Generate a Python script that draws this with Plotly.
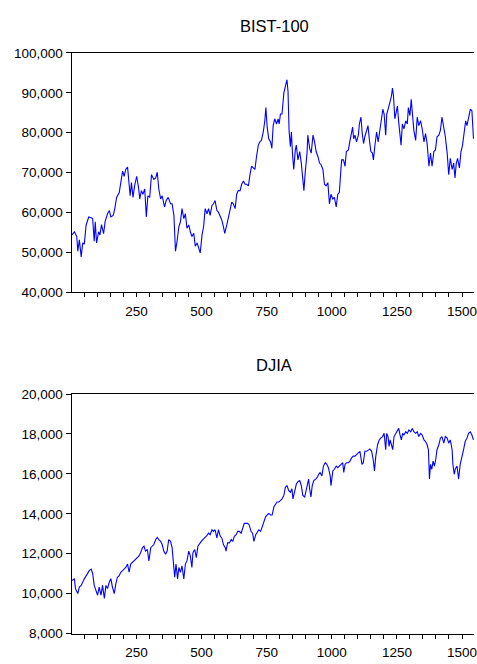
import plotly.graph_objects as go

# ---------------- data ----------------
bist_idx = [3, 12, 21, 25, 31, 38, 44, 50, 57, 67, 76, 82, 88, 92, 97, 105, 110, 116, 124, 130,
            139, 146, 152, 161, 167, 174, 184, 190, 197, 203, 209, 216, 222, 226, 231, 237, 243, 251, 258, 263,
            269, 275, 282, 288, 294, 301, 308, 317, 324, 330, 336, 343, 349, 358, 364, 372, 381, 387, 394, 400,
            406, 413, 419, 425, 432, 438, 444, 451, 457, 463, 470, 476, 483, 489, 495, 502, 508,
            514, 521, 527, 533, 540, 546, 552, 559, 565, 572, 578, 584, 589, 597, 603, 610, 616, 622, 629,
            635, 641, 648, 654, 661, 667, 673, 680, 686, 692, 699, 705, 711, 718, 724, 730, 737, 743, 747, 752,
            758, 765, 770, 775, 781, 788, 794, 798, 803, 809, 816, 822, 828, 832, 836, 841, 845, 849, 854, 860,
            864, 870, 877, 883, 889, 893, 898, 905, 908, 915, 921, 928, 934, 940, 947, 953, 959, 966, 972, 978,
            985, 991, 997, 1004, 1010, 1017, 1023, 1029, 1036,
            1038, 1045, 1051, 1056, 1064, 1069, 1074, 1080, 1084, 1089, 1095, 1102, 1106, 1112, 1117, 1122, 1127,
            1134, 1139, 1144, 1150, 1156, 1160, 1165, 1172, 1178, 1184, 1191, 1196, 1201, 1207, 1211, 1218, 1224,
            1229, 1233, 1237, 1242, 1247, 1252, 1257, 1262, 1266, 1271, 1277, 1284, 1290, 1294, 1300, 1305, 1310,
            1315, 1322, 1328, 1334, 1341, 1347, 1354, 1360, 1366, 1373, 1379, 1385, 1392, 1398, 1404, 1411, 1417,
            1423, 1430, 1436, 1443, 1449, 1455, 1462, 1468, 1473, 1478, 1483, 1490, 1496, 1502, 1509, 1514, 1519,
            1525, 1532, 1538, 1544]
bist_val = [54400, 55200, 54000, 50300, 53200, 48900, 52400, 52100, 56900, 58900, 58700, 58500, 52800, 57700, 52400, 55200, 54400, 57000, 54700, 57800,
            59700, 60500, 58900, 59300, 61000, 63800, 65000, 67500, 70400, 69100, 70800, 71400, 66700, 64200, 67500, 63800, 66700, 69100, 66300, 63400,
            65500, 64600, 65900, 58900, 64200, 63800, 69500, 68300, 68700, 70100, 65900, 63400, 64200, 61400, 63000, 63800, 62200, 62200, 59300, 50300,
            52800, 56500, 57700, 61000, 58500, 59700, 56100, 56900, 55200, 54000, 54800, 51600, 52400, 51100, 49900, 54400, 56500,
            61000, 59700, 61000, 59300, 61800, 62200, 63000, 60500, 60100, 58900, 58100, 56500, 54800, 56900, 58900, 61000, 62600, 62200, 61000,
            64600, 65500, 65500, 67100, 67900, 67100, 67100, 66700, 69500, 71600, 71200, 70800, 74000, 76900, 77700, 78100, 80200, 83000, 86300, 81400,
            78500, 77700, 76100, 81800, 83500, 82200, 83500, 82200, 84700, 84700, 90000, 91600, 93300, 90400, 80600, 76500, 80200, 74900, 70800, 75700,
            76900, 73200, 75300, 72400, 68700, 65500, 70000, 74900, 79400, 76100, 74900, 79400, 77700, 75300, 74000, 72400, 72000, 70800, 67100, 66700,
            67500, 62200, 64600, 63400, 63800, 61400, 64600, 65000, 71600,
            73200, 73200, 71600, 75300, 75700, 77700, 79400, 81400, 78500, 79400, 77700, 79400, 82200, 83900, 79800, 77300, 79000,
            80600, 81800, 78500, 75300, 74900, 73200, 76500, 80200, 77700, 81000, 83500, 85900, 84700, 79400, 84700, 86300, 88000,
            89200, 91200, 89200, 83500, 85500, 86700, 82600, 78100, 76900, 82200, 81000, 83000, 82200, 86300, 84300, 88400, 83900,
            80600, 78100, 83900, 81800, 83000, 81000, 77700, 79800, 77300, 71600, 74900, 71600, 75300, 75700, 79000, 79400, 80600,
            83900, 81400, 79000, 74900, 69500, 73600, 70800, 72400, 68700, 72400, 73600, 71200, 75300, 76900, 79800, 83000, 81800,
            83500, 85900, 85500, 78500]

djia_idx = [3, 12, 16, 25, 31, 38, 50, 57, 63, 69, 76, 82, 88, 95, 101, 107, 114, 120, 127, 133,
            139, 146, 152, 158, 165, 171, 177, 184, 190, 197, 203, 209, 216, 222, 228, 235, 241, 247, 254, 260,
            266, 273, 279, 285, 292, 298, 305, 311, 317, 324, 330, 336, 343, 349, 355, 362, 368, 374, 381, 387,
            394, 397, 402, 408, 413, 419, 425, 432, 438, 444, 451, 457, 463, 467, 474, 480, 486, 493, 499, 505,
            512, 521, 527, 533, 540, 546, 552, 559, 565, 572, 578, 584, 591, 594, 600, 607, 614, 620, 626, 633,
            639, 645, 652, 658, 664, 671, 677, 683, 690, 696, 701, 708, 714, 720, 727, 733, 739, 746, 752, 758,
            765, 771, 778, 784, 790, 797, 803, 809, 816, 822, 828, 835, 841, 847, 851, 858, 864, 870, 877, 883,
            889, 896, 902, 906, 911, 915, 920, 925, 931, 938, 944, 950, 955, 962, 968, 975, 981, 987, 994, 997,
            1004, 1010, 1017, 1023, 1029, 1036, 1042, 1046, 1051, 1057, 1064, 1070, 1076, 1083, 1089, 1095, 1102,
            1108, 1112, 1116, 1121, 1127, 1134, 1140, 1146, 1153, 1159, 1164, 1169, 1176, 1182, 1188, 1195, 1201,
            1207, 1211, 1216, 1220, 1224, 1229, 1234, 1239, 1245, 1252, 1257, 1262, 1267, 1272, 1277, 1284, 1290,
            1296, 1303, 1309, 1315, 1322, 1328, 1334, 1341, 1347, 1354, 1360, 1366, 1371, 1375, 1379, 1384, 1389,
            1394, 1399, 1404, 1411, 1417, 1423, 1430, 1436, 1443, 1449, 1455, 1462, 1465, 1470, 1474, 1481, 1487,
            1493, 1500, 1506, 1512, 1519, 1525, 1532, 1538, 1544]
djia_val = [10660, 10740, 10250, 10000, 10330, 10410, 10740, 10900, 11020, 11150, 11230, 11020, 10410, 10170, 9920, 10330, 9920, 10410, 9760, 10410,
            10250, 10580, 10740, 10330, 10000, 10490, 10820, 10900, 11070, 11150, 11230, 11310, 11480, 11070, 11480, 11560, 11640, 11720, 11800, 11890,
            12050, 12300, 12380, 12130, 12210, 11640, 12300, 12380, 12460, 12710, 12820, 12710, 12620, 12460, 12130, 11970, 12130, 12710, 12620, 12300,
            11310, 10820, 11480, 10740, 11310, 11070, 11390, 10740, 11480, 11640, 12130, 11890, 11310, 12050, 12210, 11800, 12380, 12540, 12620, 12710,
            12790, 12920, 13030, 12950, 13200, 13120, 13200, 12790, 13200, 12870, 12790, 12460, 12300, 12130, 12540, 12540, 12710, 12620, 12870, 12950,
            13120, 13120, 13030, 13280, 13520, 13520, 13520, 13440, 13120, 13030, 12620, 12950, 13120, 13200, 13120, 13360, 13520, 13850, 13940, 14020,
            13940, 13940, 14350, 14510, 14590, 14590, 14670, 14750, 14920, 15330, 15410, 15160, 15080, 15250, 14750, 15160, 15490, 15610, 15660, 15410,
            14920, 14840, 15250, 15570, 15740, 15250, 14840, 15410, 15660, 15740, 15820, 15980, 16070, 15900, 16390, 16560, 16480, 16310, 15900, 15410,
            16150, 16230, 16390, 16310, 16390, 16480, 16560, 16070, 16480, 16560, 16560, 16640, 16800, 16890, 16890, 16970, 17080,
            17130, 16800, 16480, 16560, 17130, 17130, 17210, 17250, 17130, 16720, 16150, 16890, 17460, 17700, 17790, 17870, 18030,
            17210, 18030, 17870, 17380, 17700, 17460, 17210, 17870, 18030, 18200, 18280, 17950, 17700, 18030, 17950, 18110, 18030,
            18200, 18110, 18280, 18110, 18030, 18110, 17870, 18030, 17950, 17700, 17620, 17460, 17210, 15740, 16480, 16230, 16640,
            16390, 16720, 17210, 17460, 17790, 17870, 17540, 17870, 17790, 17540, 17700, 17210, 16480, 15980, 16230, 16390, 15740,
            16480, 16800, 17210, 17620, 17790, 18030, 18110, 17950, 17700]

titles = ["BIST-100", "DJIA"]
x_tick_vals = list(range(50, 1551, 50))
x_tick_text = [str(v) if v % 250 == 0 else "" for v in x_tick_vals]
bist_ticks = [40000, 50000, 60000, 70000, 80000, 90000, 100000]
djia_ticks = [8000, 10000, 12000, 14000, 16000, 18000, 20000]

# ---------------- figure ----------------
W, H = 477, 664
FONT = "Arial, Liberation Sans, sans-serif"

def px_y(p):
    return (H - p) / H

fig = go.Figure()
fig.add_trace(go.Scatter(x=bist_idx, y=bist_val, mode="lines",
                         line=dict(color="#0000FF", width=1.1), xaxis="x", yaxis="y",
                         showlegend=False, hoverinfo="skip"))
fig.add_trace(go.Scatter(x=djia_idx, y=djia_val, mode="lines",
                         line=dict(color="#0000FF", width=1.1), xaxis="x2", yaxis="y2",
                         showlegend=False, hoverinfo="skip"))

xcommon = dict(range=[1, 1546], tickmode="array", tickvals=x_tick_vals, ticktext=x_tick_text,
               ticks="outside", ticklen=4, tickcolor="black", tickwidth=1,
               showline=True, linecolor="black", linewidth=1, mirror=True,
               showgrid=False, zeroline=False, tickfont=dict(family=FONT, size=13.5, color="black"),
               domain=[72 / W, 1.0], ticklabelstandoff=2, ticklabeloverflow="allow")
ycommon = dict(ticks="outside", ticklen=5, tickcolor="black", tickwidth=1,
               showline=True, linecolor="black", linewidth=1, mirror=False,
               showgrid=False, zeroline=False, tickformat=",d",
               tickfont=dict(family=FONT, size=13.5, color="black"))

fig.update_layout(
    width=W, height=H, margin=dict(l=0, r=0, t=0, b=0),
    paper_bgcolor="white", plot_bgcolor="white",
    xaxis=dict(**xcommon, anchor="y"),
    yaxis=dict(**ycommon, range=[40000, 100000], tickvals=bist_ticks,
               domain=[px_y(292), px_y(47)], anchor="x"),
    xaxis2=dict(**xcommon, anchor="y2"),
    yaxis2=dict(**ycommon, range=[8000, 20000], tickvals=djia_ticks,
                domain=[px_y(641), px_y(396)], anchor="x2"),
    annotations=[
        dict(text=titles[0], x=276.5 / W, y=px_y(19), xref="paper", yref="paper",
             showarrow=False, xanchor="center", yanchor="middle",
             font=dict(family=FONT, size=16.5, color="black")),
        dict(text=titles[1], x=276 / W, y=px_y(366.5), xref="paper", yref="paper",
             showarrow=False, xanchor="center", yanchor="middle",
             font=dict(family=FONT, size=16.5, color="black")),
    ],
)

post = ("document.documentElement.style.margin='0';document.documentElement.style.padding='0';"
        "document.documentElement.style.overflow='hidden';"
        "document.body.style.margin='0';document.body.style.padding='0';"
        "document.body.style.overflow='hidden';")
fig.write_html("out.html", post_script=post, config={"displayModeBar": False})
